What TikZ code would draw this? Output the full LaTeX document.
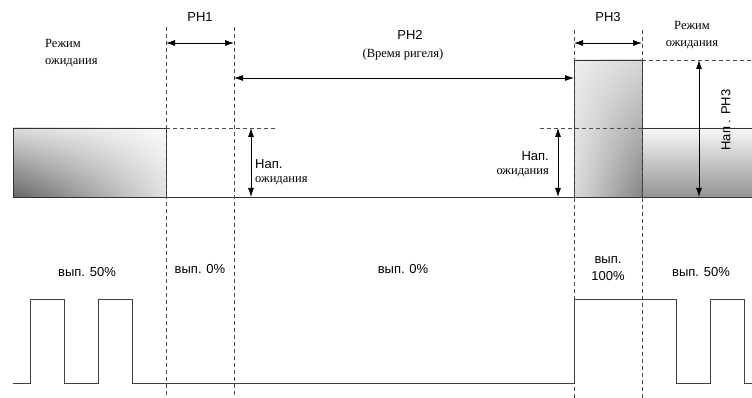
\documentclass[tikz,border=0pt]{standalone}
\usepackage{fontspec}
\setmainfont{Liberation Serif}
\setsansfont{Liberation Sans}
\usetikzlibrary{arrows.meta,shadings}
\begin{document}
\begin{tikzpicture}[x=1pt,y=-1pt,
 dim/.style={{Latex[length=9pt,width=6pt]}-{Latex[length=9pt,width=6pt]}, line width=0.8pt},
 guide/.style={dash pattern=on 4pt off 3pt, line width=0.8pt, draw=black!70},
 sig/.style={line width=0.9pt, draw=black!75},
 edge/.style={line width=0.9pt, draw=black!80},
 sanslbl/.style={font=\sffamily\fontsize{13}{17}\selectfont, inner sep=0, align=center},
 seriflbl/.style={font=\fontsize{12.5}{17}\selectfont, inner sep=0, align=center}]
\useasboundingbox (0,0) rectangle (752,398);

% gradient boxes
\shade[lower left=black!60, upper left=black!14, upper right=black!2, lower right=black!12] (13,128) rectangle (166,197);
\shade[lower left=black!14, upper left=black!7, upper right=black!16, lower right=black!48] (574,60) rectangle (642,197);
\shade[top color=black!3, bottom color=black!42] (642,128) rectangle (752,197);

% coordinates
\coordinate (v1t) at (166,27); \coordinate (v1b) at (166,398);
\coordinate (v2t) at (234,27); \coordinate (v2b) at (234,398);
\coordinate (v3t) at (574,30); \coordinate (v3b) at (574,398);
\coordinate (v4t) at (642,30); \coordinate (v4b) at (642,398);

\coordinate (lb1) at (13,128); \coordinate (lb2) at (166,197);
\coordinate (p3a) at (574,60); \coordinate (p3b) at (642,197);
\coordinate (rb1) at (642,128); \coordinate (rb2) at (752,128);
\coordinate (base0) at (13,197); \coordinate (base1) at (752,197);

% box outlines
\draw[edge] (lb1) rectangle (lb2);
\draw[edge] (p3a) rectangle (p3b);
\draw[edge] (rb1) -- (rb2);
\draw[edge] (base0) -- (base1);

% dashed guide lines
\draw[guide] (v1t) -- (v1b);
\draw[guide] (v2t) -- (v2b);
\draw[guide] (v3t) -- (v3b);
\draw[guide] (v4t) -- (v4b);
\coordinate (h1a) at (166,128); \coordinate (h1b) at (276,128);
\coordinate (h2a) at (540,128); \coordinate (h2b) at (642,128);
\coordinate (h3a) at (642,60); \coordinate (h3b) at (752,60);
\draw[guide] (h1a) -- (h1b);
\draw[guide] (h2a) -- (h2b);
\draw[guide] (h3a) -- (h3b);

% dimension arrows
\coordinate (a1l) at (166,43); \coordinate (a1r) at (234,43);
\coordinate (a2l) at (234,78); \coordinate (a2r) at (574,78);
\coordinate (a3l) at (574,43); \coordinate (a3r) at (642,43);
\draw[dim] (a1l) -- (a1r);
\draw[dim] (a2l) -- (a2r);
\draw[dim] (a3l) -- (a3r);
\coordinate (n1t) at (251,128); \coordinate (n1b) at (251,197);
\coordinate (n2t) at (558,128); \coordinate (n2b) at (558,197);
\coordinate (n3t) at (699,60); \coordinate (n3b) at (699,197);
\draw[dim] (n1t) -- (n1b);
\draw[dim] (n2t) -- (n2b);
\draw[dim] (n3t) -- (n3b);

% labels
\node[sanslbl] (lph1) at (200,17) {PH1};
\node[sanslbl] (lph2) at (410,35) {PH2};
\node[seriflbl] (lph2b) at (403,54) {(Время ригеля)};
\node[sanslbl] (lph3) at (608,17) {PH3};
\node[seriflbl, align=left, anchor=west] (lrej1) at (45,53) {Режим\\ожидания};
\node[seriflbl] (lrej2) at (692,35) {Режим\\ожидания};
\node[sanslbl, anchor=west] (lnap1) at (255,164) {Нап.};
\node[seriflbl, anchor=west] (lozh1) at (255,181) {ожидания};
\node[sanslbl, anchor=east] (lnap2) at (549,156) {Нап.};
\node[seriflbl, anchor=east] (lozh2) at (549,173) {ожидания};
\node[sanslbl, rotate=90] (lnap3) at (726,120) {Нап . PH3};

\node[sanslbl] (lv1) at (87,272) {вып. 50\%};
\node[sanslbl] (lv2) at (200,269) {вып. 0\%};
\node[sanslbl] (lv3) at (403,269) {вып. 0\%};
\node[sanslbl] (lv4) at (608,269) {вып.\\100\%};
\node[sanslbl] (lv5) at (701,272) {вып. 50\%};

% signal
\draw[sig] (13,383) -- (30,383) -- (30,299) -- (64,299) -- (64,383) -- (98,383) -- (98,299) -- (132,299) -- (132,383)
 -- (574,383) -- (574,299) -- (676,299) -- (676,383) -- (710,383) -- (710,299) -- (744,299) -- (744,383) -- (752,383);
\end{tikzpicture}
\end{document}
